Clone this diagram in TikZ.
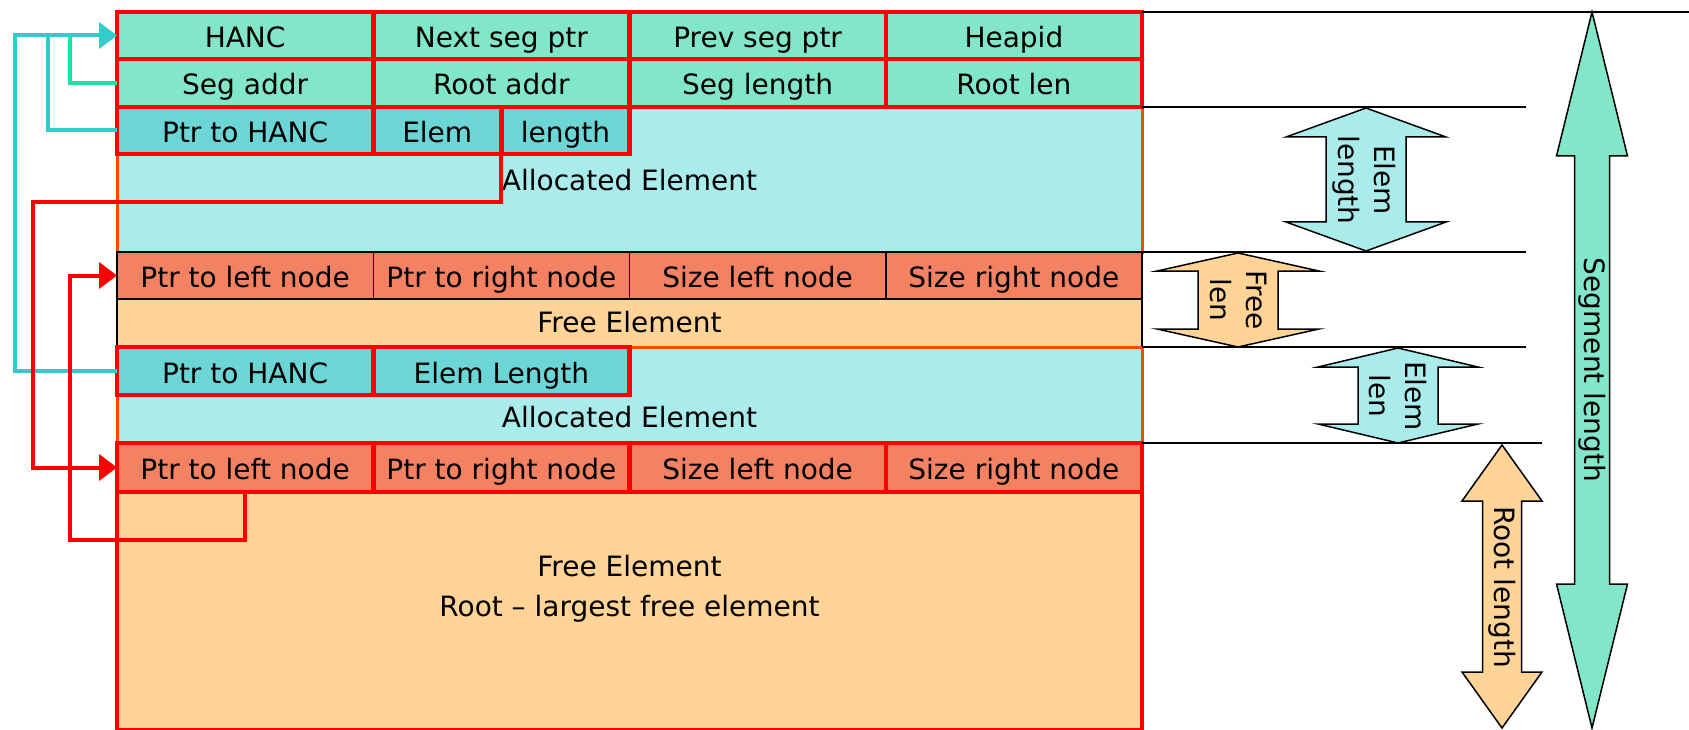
\documentclass[tikz,border=0pt]{standalone}
\usepackage{fontspec}
\setmainfont{DejaVu Sans}
\usetikzlibrary{arrows.meta,positioning}
\definecolor{hdrmint}{RGB}{130,230,200}
\definecolor{alloccyan}{RGB}{170,236,236}
\definecolor{ptrcyan}{RGB}{108,214,214}
\definecolor{freesalmon}{RGB}{244,130,98}
\definecolor{freeorange}{RGB}{255,212,150}
\definecolor{linkteal}{RGB}{51,204,204}
\definecolor{linkgreen}{RGB}{20,228,165}
\definecolor{edgeorange}{RGB}{255,72,0}

\tikzset{
  cell/.style={rectangle, anchor=north west, inner sep=0pt, outer sep=0pt, minimum width=256.25pt, text height=29pt, text depth=5pt},
  redcell/.style={cell, draw=red, line width=4.5pt},
  blackcell/.style={cell, draw=black, line width=1.5pt},
  elembox/.style={rectangle, anchor=north west, inner sep=0pt, outer sep=0pt, minimum width=1025pt},
  link/.style={line width=4pt},
  guide/.style={draw=black, line width=1.8pt},
  arrowtxt/.style={rotate=-90, align=center}
}

\begin{document}
\begin{tikzpicture}[x=1pt, y=-1pt, font=\fontsize{28}{36}\selectfont]
    \useasboundingbox (0,0) rectangle (1689,730);

    % Element bodies
    \node[elembox, minimum height=145pt, fill=alloccyan, draw=edgeorange, line width=3pt] (alloca) at (117,107) {};
    \node[elembox, minimum height=95pt, fill=freeorange, draw=black, line width=1.8pt] (freea) at (117,252) {};
    \node[elembox, minimum height=96pt, fill=alloccyan, draw=edgeorange, line width=3pt] (allocb) at (117,347) {};
    \node[elembox, minimum height=287pt, fill=freeorange, draw=red, line width=3.5pt] (freeb) at (117,443) {};

    % Segment header
    \foreach \i/\name/\txt in {0/hanc/HANC, 1/nextseg/Next seg ptr, 2/prevseg/Prev seg ptr, 3/heapid/Heapid}
      \node[redcell, fill=hdrmint, minimum height=47pt] (\name) at (117+256.25*\i,12) {\txt};
    \foreach \i/\name/\txt in {0/segaddr/Seg addr, 1/rootaddr/Root addr, 2/seglen/Seg length, 3/rootlen/Root len}
      \node[redcell, fill=hdrmint, minimum height=48pt] (\name) at (117+256.25*\i,59) {\txt};

    % Allocated element headers
    \node[redcell, fill=ptrcyan, minimum height=47pt] (ptrhanca) at (117,107) {Ptr to HANC};
    \node[redcell, fill=ptrcyan, minimum height=47pt, minimum width=128pt] (elema) at (373.25,107) {Elem};
    \node[redcell, fill=ptrcyan, minimum height=47pt, minimum width=128.25pt] (lengtha) at (501.25,107) {length};
    \node[redcell, fill=ptrcyan, minimum height=48pt] (ptrhancb) at (117,347) {Ptr to HANC};
    \node[redcell, fill=ptrcyan, minimum height=48pt] (elemlenb) at (373.25,347) {Elem Length};

    % Free element headers
    \foreach \i/\name/\txt in {0/ptrlefta/Ptr to left node, 1/ptrrighta/Ptr to right node, 2/sizelefta/Size left node, 3/sizerighta/Size right node}
      \node[blackcell, fill=freesalmon, minimum height=47pt] (\name) at (117+256.25*\i,252) {\txt};
    \foreach \i/\name/\txt in {0/ptrleftb/Ptr to left node, 1/ptrrightb/Ptr to right node, 2/sizeleftb/Size left node, 3/sizerightb/Size right node}
      \node[redcell, fill=freesalmon, minimum height=49pt] (\name) at (117+256.25*\i,443) {\txt};

    % Element labels
    \node (alloctxta) at (629.5,180) {Allocated Element};
    \node (freetxta) at (629.5,322) {Free Element};
    \node (alloctxtb) at (629.5,417) {Allocated Element};
    \node[align=center, font=\fontsize{28}{40}\selectfont] (roottxt) at (629.5,589) {Free Element\\Root -- largest free element};

    % Links to HANC
    \coordinate (tealjoin) at (15,35.5);
    \coordinate (tealmid) at (48,35.5);
    \coordinate (greenjoin) at (70,35.5);
    \draw[link, linkgreen] (segaddr.west) -| (greenjoin);
    \draw[link, linkteal] (ptrhanca.west) -| (tealmid);
    \draw[link, linkteal, -{Triangle[length=18pt, width=26pt]}] (ptrhancb.west) -| (tealjoin) -- (hanc.west);

    % Links between free nodes
    \coordinate (redturna) at (33,202);
    \coordinate (redturnb) at (70,540);
    \draw[link, red, -{Triangle[length=18pt, width=26pt]}] (elema.south east) |- (redturna) |- (ptrleftb.west);
    \draw[link, red, -{Triangle[length=18pt, width=26pt]}] (ptrleftb.south) |- (redturnb) |- (ptrlefta.west);

    % Size guides
    \draw[guide] (heapid.north east) -- (1689,12);
    \draw[guide] (alloca.north east) -- (1526,107);
    \draw[guide] (freea.north east) -- (1526,252);
    \draw[guide] (allocb.north east) -- (1526,347);
    \draw[guide] (freeb.north east) -- (1542,443);

    % Length arrows
    \foreach \cx/\ya/\yb/\hl/\hw/\sw/\col in {1366/108/251/29/80/40/alloccyan, 1238/253/347/18/81/40/freeorange, 1398/348/443/19/80/40/alloccyan, 1502/445/728/56/40/19.5/freeorange, 1592/12/728/144/35.5/17.5/hdrmint}
      \filldraw[fill=\col, draw=black, line width=1.5pt] (\cx,\ya) -- (\cx+\hw,\ya+\hl) -- (\cx+\sw,\ya+\hl) -- (\cx+\sw,\yb-\hl) -- (\cx+\hw,\yb-\hl) -- (\cx,\yb) -- (\cx-\hw,\yb-\hl) -- (\cx-\sw,\yb-\hl) -- (\cx-\sw,\ya+\hl) -- (\cx-\hw,\ya+\hl) -- cycle;

    \node[arrowtxt] (elemlentxt) at (1364,180) {Elem\\length};
    \node[arrowtxt] (freelentxt) at (1238,300) {Free\\len};
    \node[arrowtxt] (elemlenbtxt) at (1398,396) {Elem\\len};
    \node[arrowtxt] (rootlentxt) at (1502,587) {Root length};
    \node[arrowtxt] (seglentxt) at (1592,370) {Segment length};
\end{tikzpicture}
\end{document}
